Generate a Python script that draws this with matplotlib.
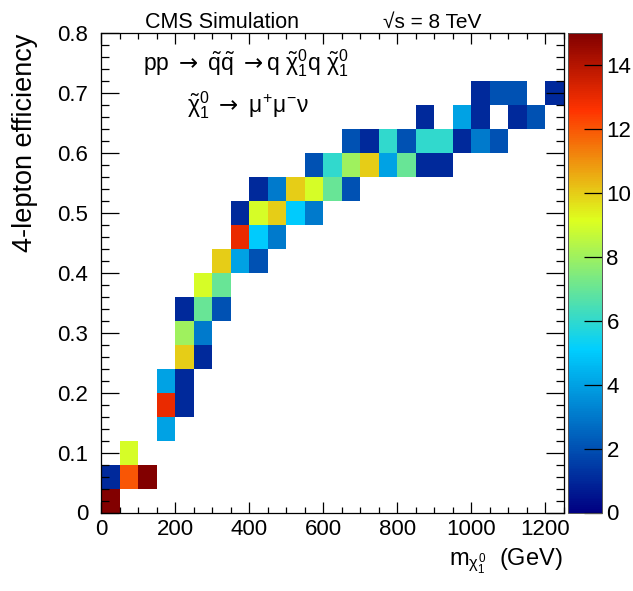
import numpy as np
import matplotlib
matplotlib.use("Agg")
import matplotlib.pyplot as plt
from matplotlib.colors import LinearSegmentedColormap
from matplotlib.ticker import MultipleLocator

plt.rcParams["font.family"] = ["Liberation Sans", "DejaVu Sans"]
plt.rcParams["mathtext.fontset"] = "custom"
plt.rcParams["mathtext.rm"] = "Liberation Sans"
plt.rcParams["mathtext.it"] = "Liberation Sans"
plt.rcParams["mathtext.sf"] = "DejaVu Sans"
plt.rcParams["mathtext.bf"] = "Liberation Sans:bold"

# Binning: neutralino mass (GeV) x 4-lepton efficiency
mass_edges = np.arange(0, 1251, 50)
eff_edges = np.linspace(0.0, 0.8, 21)

# Filled cells: bin-centre mass, bin-centre efficiency, number of mass points
cell_mass = [25,
             25, 75, 125,
             75,
             175,
             175, 225,
             175, 225,
             225, 275,
             225, 275,
             225, 275, 325,
             275, 325,
             325, 375, 425,
             375, 425, 475,
             375, 425, 475, 525, 575,
             425, 475, 525, 575, 625, 675,
             575, 625, 675, 725, 775, 825, 875, 925,
             675, 725, 775, 825, 875, 925, 975, 1025, 1075,
             875, 975, 1025, 1125, 1175,
             1025, 1075, 1125, 1225]
cell_eff = [0.02,
            0.06, 0.06, 0.06,
            0.10,
            0.14,
            0.18, 0.18,
            0.22, 0.22,
            0.26, 0.26,
            0.30, 0.30,
            0.34, 0.34, 0.34,
            0.38, 0.38,
            0.42, 0.42, 0.42,
            0.46, 0.46, 0.46,
            0.50, 0.50, 0.50, 0.50, 0.50,
            0.54, 0.54, 0.54, 0.54, 0.54, 0.54,
            0.58, 0.58, 0.58, 0.58, 0.58, 0.58, 0.58, 0.58,
            0.62, 0.62, 0.62, 0.62, 0.62, 0.62, 0.62, 0.62, 0.62,
            0.66, 0.66, 0.66, 0.66, 0.66,
            0.70, 0.70, 0.70, 0.70]
cell_count = [15,
              1, 12, 15,
              9,
              4,
              13, 1,
              4, 1,
              10, 1,
              8, 3,
              1, 7, 2,
              9, 7,
              10, 4, 2,
              13, 5, 3,
              1, 9, 10, 5, 3,
              1, 3, 10, 9, 7, 2,
              2, 6, 8, 10, 4, 7, 1, 1,
              2, 1, 6, 2, 6, 6, 1, 3, 2,
              1, 4, 1, 1, 2,
              1, 2, 2, 1]

z_min, z_max = 0, 15
cbar_ticks = [0, 2, 4, 6, 8, 10, 12, 14]
x_ticks = [0, 200, 400, 600, 800, 1000, 1200]
y_ticks = [0.0, 0.1, 0.2, 0.3, 0.4, 0.5, 0.6, 0.7, 0.8]
y_tick_labels = ["0", "0.1", "0.2", "0.3", "0.4", "0.5", "0.6", "0.7", "0.8"]

# Rainbow palette (stops / red / green / blue)
stops = [0.00, 0.34, 0.61, 0.84, 1.00]
red = [0.00, 0.00, 0.87, 1.00, 0.51]
green = [0.00, 0.81, 1.00, 0.20, 0.00]
blue = [0.51, 1.00, 0.12, 0.00, 0.00]
palette = LinearSegmentedColormap.from_list(
    "rainbow5", [(s, (r, g, b)) for s, r, g, b in zip(stops, red, green, blue)], N=256)

W, H = 633, 591
fig = plt.figure(figsize=(W / 100, H / 100), dpi=100)

def fx(px):
    return px / W

def fy(py):
    return 1 - py / H

ax_l, ax_r, ax_t, ax_b = 101, 564, 33, 512.5
ax = fig.add_axes([fx(ax_l), fy(ax_b), fx(ax_r - ax_l), (ax_b - ax_t) / H])
cax = fig.add_axes([fx(567.5), fy(ax_b), fx(34.8), (ax_b - ax_t) / H])

counts, _, _ = np.histogram2d(cell_mass, cell_eff, bins=[mass_edges, eff_edges],
                              weights=cell_count)
grid = np.ma.masked_where(counts.T <= 0, counts.T)
mesh = ax.pcolormesh(mass_edges, eff_edges, grid, cmap=palette,
                     vmin=z_min, vmax=z_max, shading="flat")

ax.set_xlim(0, 1250)
ax.set_ylim(0, 0.8)
ax.set_xticks(x_ticks)
ax.set_yticks(y_ticks)
ax.set_yticklabels(y_tick_labels)
ax.xaxis.set_minor_locator(MultipleLocator(50))
ax.yaxis.set_minor_locator(MultipleLocator(0.02))
ax.tick_params(axis="both", which="both", direction="in", top=True, right=True,
               width=0.9, labelsize=16)
ax.tick_params(axis="x", which="major", length=8, pad=5)
ax.tick_params(axis="x", which="minor", length=4.3)
ax.tick_params(axis="y", which="major", length=13, pad=9)
ax.tick_params(axis="y", which="minor", length=6)
for sp in ax.spines.values():
    sp.set_linewidth(0.9)

cb = fig.colorbar(mesh, cax=cax, ticks=cbar_ticks)
cb.ax.tick_params(direction="in", length=13, width=0.9, labelsize=16, pad=3)
cb.outline.set_linewidth(0.7)
cb.outline.set_edgecolor("#555555")

fig.text(fx(25), fy(34), "4-lepton efficiency", rotation=90, ha="center", va="top",
         fontsize=19.5)
fig.text(fx(563), fy(566), r"$\mathrm{m}_{\chi^{0}_{1}}$  (GeV)", ha="right",
         va="baseline", fontsize=17)

fig.text(fx(145), fy(28), "CMS Simulation", ha="left", va="baseline", fontsize=15.5)
fig.text(fx(383), fy(28), "\u221as = 8 TeV", ha="left", va="baseline", fontsize=15)

arrow = r"\mathsf{\rightarrow}"
fig.text(fx(143), fy(70),
         r"$\mathrm{pp}\ " + arrow + r"\ \tilde{\mathrm{q}}\tilde{\mathrm{q}}\ " + arrow +
         r"\mathrm{q}\ \tilde{\chi}^{0}_{1}\mathrm{q}\ \tilde{\chi}^{0}_{1}$",
         ha="left", va="baseline", fontsize=16.5)
fig.text(fx(187), fy(112),
         r"$\tilde{\chi}^{0}_{1}\ " + arrow + r"\ \mu^{+}\mu^{-}\nu$",
         ha="left", va="baseline", fontsize=16.5)

fig.savefig("out.png", dpi=100)
